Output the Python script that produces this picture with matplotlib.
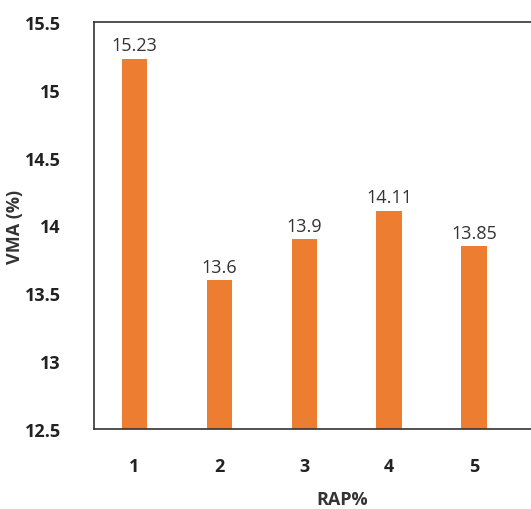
import matplotlib.pyplot as plt

plt.rcParams['font.family'] = ['Open Sans', 'DejaVu Sans']

categories = ['1', '2', '3', '4', '5']
vma = [15.23, 13.6, 13.9, 14.11, 13.85]
x = [1, 2, 3, 4, 5]

fig = plt.figure(figsize=(5.31, 5.10), dpi=100)
ax = fig.add_axes([0.177, 0.157, 0.831, 0.798])

bars = ax.bar(x, vma, width=0.3, color='#ED7D31', zorder=2)
ax.bar_label(bars, labels=[str(v) for v in vma], padding=3,
             fontsize=13, color='#333333')

ax.set_xlim(0.523, 5.72)
ax.set_ylim(12.5, 15.5)
ax.set_yticks([12.5, 13, 13.5, 14, 14.5, 15, 15.5])
ax.set_yticklabels(['12.5', '13', '13.5', '14', '14.5', '15', '15.5'])
ax.set_xticks(x)
ax.set_xticklabels(categories)
ax.tick_params(axis='both', length=0, labelsize=13)
ax.tick_params(axis='y', pad=24)
ax.tick_params(axis='x', pad=20)
for lab in ax.get_xticklabels() + ax.get_yticklabels():
    lab.set_fontweight('bold')
    lab.set_color('#222222')

for s in ax.spines.values():
    s.set_color('#333333')
    s.set_linewidth(1.2)

ax.set_xlabel('RAP%', fontsize=13, fontweight='bold', color='#333333')
ax.set_ylabel('VMA (%)', fontsize=13, fontweight='bold', color='#333333')
ax.xaxis.set_label_coords(0.562, -0.172)
ax.yaxis.set_label_coords(-0.179, 0.5)
ax.xaxis.label.set_va('center')
ax.yaxis.label.set_va('center')

plt.savefig('out.png', dpi=100)
